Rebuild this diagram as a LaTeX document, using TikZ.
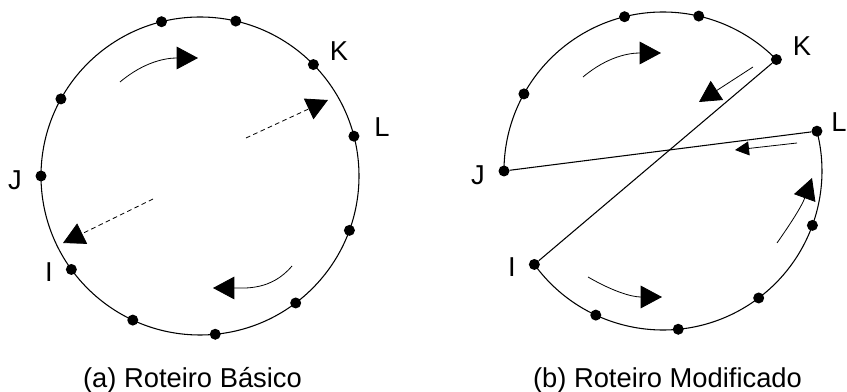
\documentclass[tikz,border=0pt]{standalone}
\usepackage{fontspec}
\setmainfont{Liberation Sans}
\usetikzlibrary{arrows.meta}

\begin{document}
\begin{tikzpicture}[x=0.75pt,y=0.75pt]

  \tikzstyle{city}=[circle,fill,inner sep=0pt,minimum size=8.25pt]
  \tikzstyle{route}=[line width=0.8pt]
  \tikzstyle{turnarrow}=[line width=0.6pt,-{Triangle[length=16pt,width=17pt]}]
  \tikzstyle{exch}=[turnarrow,dash pattern=on 3.5pt off 2.5pt]
  \tikzstyle{shortarrow}=[line width=0.6pt,-{Triangle[length=10.5pt,width=10.5pt]}]
  \tikzstyle{citylabel}=[font=\fontsize{20.5}{24}\selectfont]

  % ====================
  % Parameters
  % ====================
  \def\rad{159}  % Radius of the tour
  \def\angK{44.5}
  \def\angL{14.5}
  \def\angJ{180}
  \def\angI{216}
  % ====================

  \useasboundingbox (0,0) rectangle (847,392);

  % ====================
  % (a) basic tour
  % ====================
  \begin{scope}[shift={(200,216)}]
    % Tour
    \draw[route] (0,0) circle[radius=\rad];

    % Cities
    \foreach \a [count=\i] in {104,77,151,340,307,245,275.5}
      \node[city] (pa\i) at (\a:\rad) {};
    \node[city] (ka) at (\angK:\rad) {};
    \node[city] (la) at (\angL:\rad) {};
    \node[city] (ja) at (\angJ:\rad) {};
    \node[city] (ia) at (\angI:\rad) {};
    \node[citylabel] (ka-t) at (139,125) {K};
    \node[citylabel] (la-t) at (182,49) {L};
    \node[citylabel] (ja-t) at (-185,-4) {J};
    \node[citylabel] (ia-t) at (-151,-96) {I};

    % Direction
    \draw[turnarrow] (-80,94) to[out=40,in=180] (-2,118);
    \draw[turnarrow] (92,-90) to[out=230,in=0] (13,-112);

    % Exchange
    \draw[exch] (46,38) -- (128,76);
    \draw[exch] (-47,-23) -- (-137,-67);
  \end{scope}

  % ====================
  % (b) modified tour
  % ====================
  \begin{scope}[shift={(663,221)}]
    % Tour
    \draw[route] (\angJ:\rad) arc[start angle=\angJ, end angle=\angK, radius=\rad];
    \draw[route] (\angI:\rad) arc[start angle=\angI, end angle=360+\angL, radius=\rad];

    % Cities
    \foreach \a [count=\i] in {104,77,151,340,307,245,275.5}
      \node[city] (pb\i) at (\a:\rad) {};
    \node[city] (kb) at (\angK:\rad) {};
    \node[city] (lb) at (\angL:\rad) {};
    \node[city] (jb) at (\angJ:\rad) {};
    \node[city] (ib) at (\angI:\rad) {};
    \node[citylabel] (kb-t) at (139,125) {K};
    \node[citylabel] (lb-t) at (176,49) {L};
    \node[citylabel] (jb-t) at (-185,-4) {J};
    \node[citylabel] (ib-t) at (-151,-96) {I};

    % New edges
    \draw[route] (kb) -- (ib);
    \draw[route] (jb) -- (lb);

    % Direction
    \draw[turnarrow] (-80,94) to[out=40,in=180] (-2,118);
    \draw[turnarrow] (90,104) -- (36,69);
    \draw[shortarrow] (134,28) -- (72,21);
    \draw[turnarrow] (114,-72) to[out=55,in=250] (149,-7);
    \draw[turnarrow] (-75,-106) to[out=-30,in=180] (-1,-126);
  \end{scope}

  % Captions
  \node[citylabel,anchor=base] (cap-a) at (192.5,4) {(a) Roteiro Básico};
  \node[citylabel,anchor=base] (cap-b) at (667.5,4) {(b) Roteiro Modificado};
\end{tikzpicture}
\end{document}
